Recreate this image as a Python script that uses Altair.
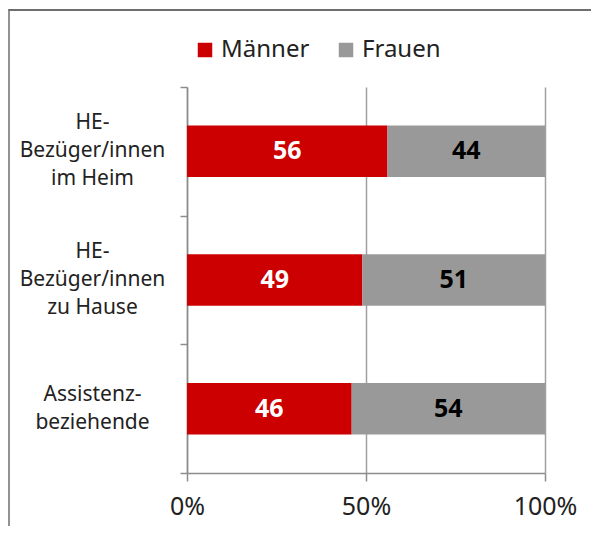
import altair as alt
import pandas as pd

categories = ["HE-\nBezüger/innen\nim Heim", "HE-\nBezüger/innen\nzu Hause", "Assistenz-\nbeziehende"]
series = ["Männer", "Frauen"]
maenner = [56, 49, 46]
frauen = [44, 51, 54]
x_ticks = [0, 50, 100]

rows = []
for i, c in enumerate(categories):
    rows.append({"cat": c, "series": "Männer", "value": maenner[i], "ord": 0})
    rows.append({"cat": c, "series": "Frauen", "value": frauen[i], "ord": 1})
df = pd.DataFrame(rows)

W, H = 358, 386
FONT = "Noto Sans"
GRAY = "#999999"
RED = "#CC0000"
AXC = "#8C8C8C"
LH = 28

base = alt.Chart(df)

xaxis = alt.Axis(
    values=x_ticks,
    labelExpr="datum.value + '%'",
    labelFlush=False,
    grid=True,
    gridColor="#A0A0A0",
    gridWidth=1.5,
    domainColor=AXC,
    domainWidth=1.5,
    tickColor=AXC,
    tickWidth=1.5,
    tickSize=8,
    labelFontSize=25,
    labelFont=FONT,
    labelColor="#222222",
    labelPadding=13,
    title=None,
)
yaxis = alt.Axis(
    domain=False,
    ticks=False,
    grid=False,
    labelExpr="split(datum.label, '\\n')",
    labelAlign="center",
    labelBaseline="middle",
    labelOffset={
        "condition": {"test": "length(split(datum.value, '\\n')) == 3", "value": -LH},
        "value": -LH / 2,
    },
    labelPadding=95,
    labelFontSize=21,
    labelFont=FONT,
    labelColor="#222222",
    labelLineHeight=LH,
    title=None,
)
xscale = alt.Scale(domain=[0, 100])
yscale = alt.Scale(paddingInner=0.6, paddingOuter=0.3)

bars = base.mark_bar().encode(
    x=alt.X("value:Q", stack="zero", scale=xscale, axis=xaxis),
    y=alt.Y("cat:N", sort=categories, scale=yscale, axis=yaxis),
    color=alt.Color(
        "series:N",
        scale=alt.Scale(domain=series, range=[RED, GRAY]),
        legend=alt.Legend(
            title=None,
            orient="none",
            legendX=6,
            legendY=-49,
            direction="horizontal",
            symbolType="square",
            symbolSize=210,
            symbolStrokeWidth=0,
            symbolOpacity=1,
            labelFontSize=24,
            labelFont=FONT,
            labelColor="#222222",
            labelOffset=4,
            columnPadding=24,
        ),
    ),
    order=alt.Order("ord:Q"),
)

labels = (
    base.transform_stack(stack="value", groupby=["cat"], as_=["x0", "x1"], sort=[alt.SortField("ord")])
    .transform_calculate(mid="(datum.x0 + datum.x1) / 2",
                         tcol="datum.series == 'Männer' ? 'white' : 'black'")
    .mark_text(fontSize=25, fontWeight="bold", font=FONT)
    .encode(
        x=alt.X("mid:Q", scale=xscale, axis=xaxis),
        y=alt.Y("cat:N", sort=categories, scale=yscale, axis=yaxis),
        text=alt.Text("value:Q"),
        color=alt.Color("tcol:N", scale=None),
    )
)

main = alt.layer(bars, labels)

ticks = (
    base.transform_calculate(z="0")
    .mark_point(opacity=0, size=0)
    .encode(
        x=alt.value(0),
        y=alt.Y(
            "z:Q",
            scale=alt.Scale(domain=[0, len(categories)]),
            axis=alt.Axis(
                orient="left",
                values=list(range(len(categories) + 1)),
                labels=False,
                grid=False,
                domain=True,
                domainColor=AXC,
                domainWidth=1.5,
                tickColor=AXC,
                tickWidth=1.5,
                tickSize=7,
                title=None,
            ),
        ),
    )
)

one = pd.DataFrame({"a": [0]})
frame_left = alt.Chart(one).mark_rule(color="#6E6E6E", strokeWidth=1.5).encode(
    x=alt.value(-178), y=alt.value(-78), y2=alt.value(H + 60),
)
frame_top = alt.Chart(one).mark_rule(color="#6E6E6E", strokeWidth=2, clip=False).encode(
    y=alt.value(-77), x=alt.value(-178.5), x2=alt.value(W + 60),
)

chart = (
    alt.layer(main, ticks, frame_left, frame_top)
    .resolve_scale(y="independent", color="independent")
    .properties(
        width=W,
        height=H,
        padding={"left": 179, "top": 79, "right": 46, "bottom": 53},
        autosize=alt.AutoSizeParams(type="none"),
    )
    .configure_view(stroke=None)
)

chart.save("out.html", embed_options={"renderer": "svg", "actions": False})
